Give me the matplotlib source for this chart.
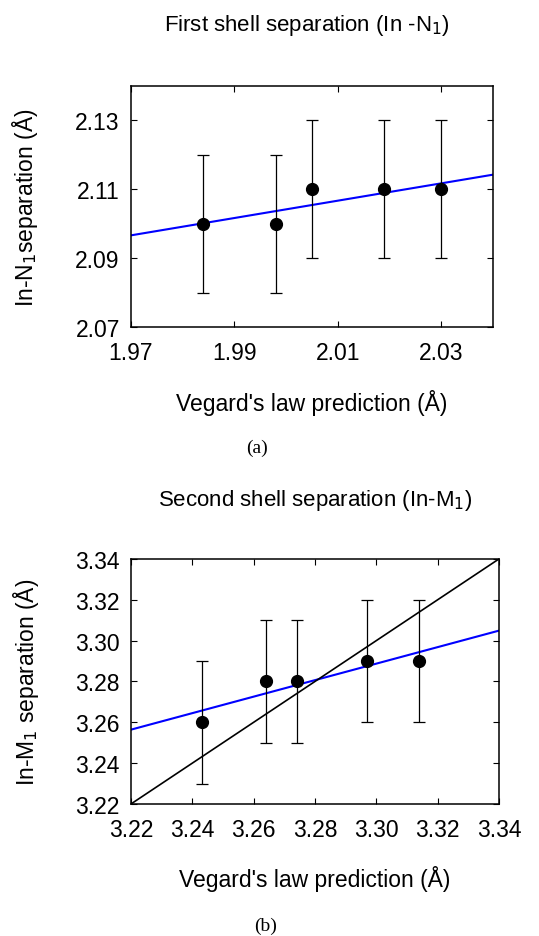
import numpy as np
import matplotlib
matplotlib.use("Agg")
import matplotlib.pyplot as plt

plt.rcParams['font.family'] = ['Liberation Sans', 'DejaVu Sans']

# first shell (In-N1)
vegard_n = [1.984, 1.998, 2.005, 2.019, 2.030]
sep_n = [2.10, 2.10, 2.11, 2.11, 2.11]
err_n = [0.02, 0.02, 0.02, 0.02, 0.02]

# second shell (In-M1)
vegard_m = [3.243, 3.264, 3.274, 3.297, 3.314]
sep_m = [3.26, 3.28, 3.28, 3.29, 3.29]
err_m = [0.03, 0.03, 0.03, 0.03, 0.03]

ticks_n_x = [1.97, 1.99, 2.01, 2.03]
ticks_n_y = [2.07, 2.09, 2.11, 2.13]
ticks_m = [3.22, 3.24, 3.26, 3.28, 3.30, 3.32, 3.34]

fs = 16.5

fig = plt.figure(figsize=(5.39, 9.37), dpi=100)
ax1 = fig.add_axes([0.2430, 0.6499, 0.6716, 0.2572])
ax2 = fig.add_axes([0.2430, 0.1409, 0.6827, 0.2615])


def style(ax):
    for s in ax.spines.values():
        s.set_linewidth(1.1)
    ax.tick_params(direction='in', top=True, right=True, length=4, width=0.8,
                   labelsize=fs)
    ax.tick_params(axis='x', pad=10)
    ax.tick_params(axis='y', pad=8)


def draw(ax, x, y, e, xlim, extra_line=False):
    ax.errorbar(x, y, yerr=e, fmt='o', color='black', ms=8.5, elinewidth=0.9,
                capsize=4, capthick=0.9, zorder=3)
    b, a = np.polyfit(x, y, 1)
    xx = np.array(xlim)
    ax.plot(xx, a + b * xx, color='#0000ff', lw=1.5, zorder=2)
    if extra_line:
        ax.plot(xx, xx, color='black', lw=1.2, zorder=2)
    ax.set_xlim(xlim)


draw(ax1, vegard_n, sep_n, err_n, (1.97, 2.04))
ax1.set_ylim(2.07, 2.14)
ax1.set_xticks(ticks_n_x)
ax1.set_yticks(ticks_n_y)
ax1.set_xticklabels(["%.2f" % t for t in ticks_n_x])
ax1.set_yticklabels(["%.2f" % t for t in ticks_n_y])
style(ax1)
ax1.set_ylabel("In-N$_1$separation (Å)", fontsize=fs)
ax1.set_xlabel("Vegard's law prediction (Å)", fontsize=fs)
ax1.yaxis.set_label_coords(-0.25, 0.5)
ax1.xaxis.set_label_coords(0.5, -0.257)

draw(ax2, vegard_m, sep_m, err_m, (3.22, 3.34), extra_line=True)
ax2.set_ylim(3.22, 3.34)
ax2.set_xticks(ticks_m)
ax2.set_yticks(ticks_m)
ax2.set_xticklabels(["%.2f" % t for t in ticks_m])
ax2.set_yticklabels(["%.2f" % t for t in ticks_m])
style(ax2)
ax2.set_ylabel("In-M$_1$ separation (Å)", fontsize=fs)
ax2.set_xlabel("Vegard's law prediction (Å)", fontsize=fs)
ax2.yaxis.set_label_coords(-0.245, 0.5)
ax2.xaxis.set_label_coords(0.5, -0.25)

fig.text(0.57, 0.973, "First shell separation (In -N$_1$)", ha='center',
         va='center', fontsize=16)
fig.text(0.585, 0.466, "Second shell separation (In-M$_1$)", ha='center',
         va='center', fontsize=16)
fig.text(0.477, 0.522, "(a)", ha='center', va='center', fontsize=14,
         family='Liberation Serif')
fig.text(0.492, 0.011, "(b)", ha='center', va='center', fontsize=14,
         family='Liberation Serif')

fig.savefig("out.png", dpi=100)
